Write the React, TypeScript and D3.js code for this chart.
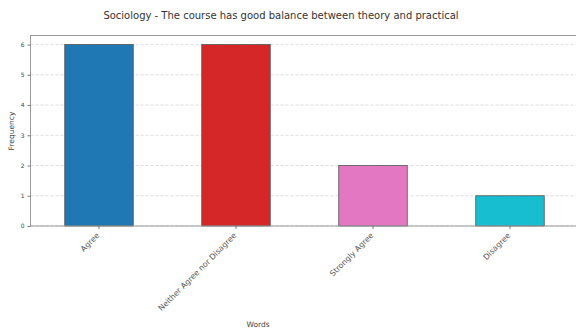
import React, { useEffect, useRef } from 'react';
import * as d3 from 'd3';

const categories = ['Agree', 'Neither Agree nor Disagree', 'Strongly Agree', 'Disagree'];
const counts = [6, 6, 2, 1];
const barColors = ['#1f77b4', '#d62728', '#e377c2', '#17becf'];
const yTicks = [0, 1, 2, 3, 4, 5, 6];

const App: React.FC = () => {
    const svgRef = useRef<SVGSVGElement>(null);

    const width = 576;
    const height = 330;

    useEffect(() => {
        if (!svgRef.current) return;

        const svg = d3.select(svgRef.current);
        svg.selectAll('*').remove();

        const font = 'DejaVu Sans, sans-serif';
        const left = 30.5;
        const right = 578.5;
        const top = 35.5;
        const bottom = 226;

        const xScale = d3.scaleBand<string>()
            .domain(categories)
            .range([left, right])
            .paddingInner(0.5)
            .paddingOuter(0.25);

        const yScale = d3.scaleLinear()
            .domain([0, 6.3])
            .range([bottom, top]);

        // grid
        svg.append('g')
            .selectAll('line')
            .data(yTicks)
            .join('line')
            .attr('x1', left)
            .attr('x2', right)
            .attr('y1', d => yScale(d))
            .attr('y2', d => yScale(d))
            .attr('stroke', '#cfcfcf')
            .attr('stroke-width', 0.7)
            .attr('stroke-dasharray', '3,2');

        // bars
        svg.append('g')
            .selectAll('rect')
            .data(counts)
            .join('rect')
            .attr('x', (d, i) => xScale(categories[i]) ?? 0)
            .attr('y', d => yScale(d))
            .attr('width', xScale.bandwidth())
            .attr('height', d => bottom - yScale(d))
            .attr('fill', (d, i) => barColors[i])
            .attr('stroke', '#555')
            .attr('stroke-width', 0.8);

        // frame
        svg.append('rect')
            .attr('x', left)
            .attr('y', top)
            .attr('width', right - left)
            .attr('height', bottom - top)
            .attr('fill', 'none')
            .attr('stroke', '#999')
            .attr('stroke-width', 1);

        // y axis
        const yAxis = svg.append('g')
            .attr('transform', `translate(${left},0)`)
            .call(d3.axisLeft(yScale).tickValues(yTicks).tickFormat(d3.format('d')).tickSize(3).tickPadding(3));
        yAxis.select('.domain').remove();
        yAxis.selectAll('line').attr('stroke', '#777');
        yAxis.selectAll('text')
            .attr('font-family', font)
            .attr('font-size', 6)
            .attr('fill', '#444');

        // x axis
        const xAxis = svg.append('g')
            .attr('transform', `translate(0,${bottom})`)
            .call(d3.axisBottom(xScale).tickSize(3).tickPadding(0));
        xAxis.select('.domain').remove();
        xAxis.selectAll('line').attr('stroke', '#777');
        xAxis.selectAll('text')
            .attr('font-family', font)
            .attr('font-size', 7.8)
            .attr('fill', '#555')
            .attr('text-anchor', 'end')
            .attr('y', 0)
            .attr('dy', '0.35em')
            .attr('transform', 'translate(-1,8) rotate(-45)');

        // title
        svg.append('text')
            .attr('x', 281)
            .attr('y', 19)
            .attr('text-anchor', 'middle')
            .attr('font-family', font)
            .attr('font-size', 10)
            .attr('fill', '#333')
            .text('Sociology - The course has good balance between theory and practical');

        svg.append('text')
            .attr('x', 258)
            .attr('y', 327)
            .attr('text-anchor', 'middle')
            .attr('font-family', font)
            .attr('font-size', 7.5)
            .attr('fill', '#444')
            .text('Words');

        svg.append('text')
            .attr('transform', `translate(14,131) rotate(-90)`)
            .attr('text-anchor', 'middle')
            .attr('font-family', font)
            .attr('font-size', 7.5)
            .attr('fill', '#444')
            .text('Frequency');
    }, []);

    return (
        <svg ref={svgRef} width={width} height={height}
            style={{ position: 'absolute', left: 0, top: 0, background: '#fff' }}></svg>
    );
};

export default App;
